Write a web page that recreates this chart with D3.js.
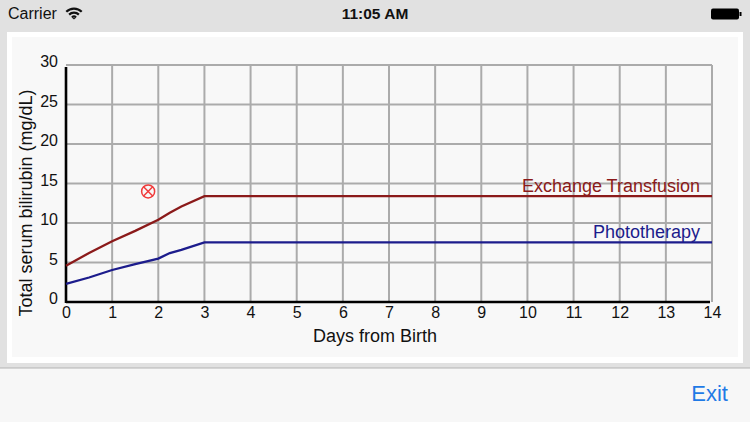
<!DOCTYPE html>
<html><head><meta charset="utf-8">
<script src="https://cdn.jsdelivr.net/npm/d3@7"></script>
<style>html,body{margin:0;padding:0;background:#e1e1e1;overflow:hidden}</style>
</head><body>
<svg id="c" width="750" height="422"></svg>
<script>
const days = [0, 0.5, 1, 1.5, 2, 2.25, 2.5, 3, 14];
const exchange = [4.6, 6.2, 7.7, 9.0, 10.4, 11.3, 12.1, 13.4, 13.4];
const photo = [2.3, 3.1, 4.05, 4.8, 5.5, 6.2, 6.6, 7.55, 7.55];
const patient = [{day: 1.78, tsb: 14.0}];
const xTicks = d3.range(0, 15);
const yTicks = [0, 5, 10, 15, 20, 25, 30];
const seriesNames = ["Exchange Transfusion", "Phototherapy"];

const svg = d3.select("#c");
const font = "'Liberation Sans', Arial, Helvetica, sans-serif";

// status bar
svg.append("rect").attr("x",0).attr("y",0).attr("width",750).attr("height",368).attr("fill","#e1e1e1");
svg.append("text").attr("x",8).attr("y",19).attr("font-family",font).attr("font-size",16).attr("fill","#111").text("Carrier");
const wifi = svg.append("g").attr("transform","translate(74,19.5)");
[12,8,4].forEach(r=>{
  wifi.append("path").attr("d", d3.arc()({innerRadius:r-2.2,outerRadius:r,startAngle:-Math.PI/4,endAngle:Math.PI/4})).attr("fill","#111");
});
wifi.append("path").attr("d","M-1.6,-1.6 L0,0 L1.6,-1.6 Z").attr("fill","#111");
svg.append("text").attr("x",375).attr("y",19).attr("text-anchor","middle").attr("font-family",font).attr("font-size",15.5).attr("font-weight","bold").attr("fill","#111").text("11:05 AM");
svg.append("rect").attr("x",711).attr("y",8.5).attr("width",28).attr("height",11).attr("rx",2).attr("fill","#000");
svg.append("rect").attr("x",739.5).attr("y",12).attr("width",2).attr("height",4).attr("fill","#000");

// panels
svg.append("rect").attr("x",7).attr("y",32).attr("width",736).attr("height",331).attr("fill","#ffffff");
svg.append("rect").attr("x",12).attr("y",37).attr("width",726).attr("height",320).attr("fill","#f8f8f8");
svg.append("rect").attr("x",0).attr("y",368).attr("width",750).attr("height",54).attr("fill","#f7f7f7");
svg.append("line").attr("x1",0).attr("x2",750).attr("y1",368).attr("y2",368).attr("stroke","#b4b4b4").attr("stroke-width",1.2);
svg.append("text").attr("x",728).attr("y",401).attr("text-anchor","end").attr("font-family",font).attr("font-size",22).attr("fill","#1f7ae6").text("Exit");

const x = d3.scaleLinear().domain([0,14]).range([66,712]);
const y = d3.scaleLinear().domain([0,30]).range([302,65]);

// grid
const g = svg.append("g");
g.selectAll("line.v").data(xTicks.filter(d=>d>0)).join("line")
  .attr("x1",d=>x(d)).attr("x2",d=>x(d)).attr("y1",y(30)).attr("y2",y(0))
  .attr("stroke","#ababab").attr("stroke-width",2);
g.selectAll("line.h").data(yTicks.filter(d=>d>0)).join("line")
  .attr("x1",x(0)).attr("x2",x(14)).attr("y1",d=>y(d)).attr("y2",d=>y(d))
  .attr("stroke","#ababab").attr("stroke-width",2);

// axes
const xAxis = d3.axisBottom(x).tickValues(xTicks).tickSize(0).tickPadding(5).tickFormat(d3.format("d"));
const yAxis = d3.axisLeft(y).tickValues(yTicks).tickSize(0).tickPadding(8);
const gx = svg.append("g").attr("transform",`translate(0,${y(0)})`).call(xAxis);
const gy = svg.append("g").attr("transform",`translate(${x(0)},0)`).call(yAxis);
[gx,gy].forEach(a=>{
  a.select(".domain").remove();
  a.selectAll("text").attr("font-family",font).attr("font-size",16).attr("fill","#111");
});
gy.selectAll("text").attr("dy","0.1em");
svg.append("line").attr("x1",x(0)).attr("x2",x(14)-2).attr("y1",y(0)).attr("y2",y(0)).attr("stroke","#000").attr("stroke-width",2.6);
svg.append("line").attr("x1",x(0)).attr("x2",x(0)).attr("y1",y(0)+1).attr("y2",y(30)+2).attr("stroke","#000").attr("stroke-width",2.6);

// lines
const line = d3.line().x(d=>x(d[0])).y(d=>y(d[1]));
svg.append("path").attr("d",line(days.map((d,i)=>[d,exchange[i]]))).attr("fill","none").attr("stroke","#8b1a1a").attr("stroke-width",2.3);
svg.append("path").attr("d",line(days.map((d,i)=>[d,photo[i]]))).attr("fill","none").attr("stroke","#1c1c8c").attr("stroke-width",2.3);

svg.append("text").attr("x",700).attr("y",y(exchange[exchange.length-1])-4).attr("text-anchor","end").attr("font-family",font).attr("font-size",18).attr("fill","#8b1a1a").text(seriesNames[0]);
svg.append("text").attr("x",700).attr("y",y(photo[photo.length-1])-4).attr("text-anchor","end").attr("font-family",font).attr("font-size",18).attr("fill","#1c1c8c").text(seriesNames[1]);

// patient marker
patient.forEach(p=>{
  const mg = svg.append("g").attr("transform",`translate(${x(p.day)},${y(p.tsb)})`).attr("stroke","#f03a3a").attr("stroke-width",1.5).attr("fill","none");
  mg.append("circle").attr("r",6.5);
  mg.append("line").attr("x1",-4.6).attr("y1",-4.6).attr("x2",4.6).attr("y2",4.6);
  mg.append("line").attr("x1",-4.6).attr("y1",4.6).attr("x2",4.6).attr("y2",-4.6);
});

// titles
svg.append("text").attr("x",375).attr("y",342).attr("text-anchor","middle").attr("font-family",font).attr("font-size",18).attr("fill","#111").text("Days from Birth");
svg.append("text").attr("transform","translate(32,203) rotate(-90)").attr("text-anchor","middle").attr("font-family",font).attr("font-size",18).attr("fill","#111").text("Total serum bilirubin (mg/dL)");
</script>
</body></html>
